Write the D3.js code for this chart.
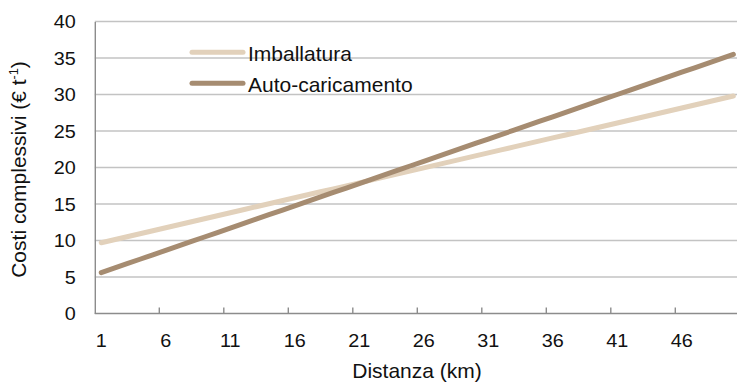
<!DOCTYPE html>
<html>
<head>
<meta charset="utf-8">
<script src="https://cdn.jsdelivr.net/npm/d3@7"></script>
<style>
  html, body { margin: 0; padding: 0; background: #fff; }
  svg { display: block; font-family: "Liberation Sans", Arial, sans-serif; }
</style>
</head>
<body>
<svg id="chart" width="737" height="383"></svg>
<script>
// Distance categories (km)
const distances = d3.range(1, 51);
// Category labels shown on the x axis
const xTickLabels = [1, 6, 11, 16, 21, 26, 31, 36, 41, 46];
// Y axis ticks
const yTicks = [0, 5, 10, 15, 20, 25, 30, 35, 40];

// Total costs (€ t-1) by distance
const imballatura = [
  9.70, 10.11, 10.52, 10.93, 11.34, 11.75, 12.16, 12.57, 12.98, 13.39,
  13.80, 14.21, 14.62, 15.03, 15.44, 15.85, 16.26, 16.67, 17.08, 17.49,
  17.90, 18.31, 18.72, 19.13, 19.54, 19.95, 20.36, 20.77, 21.18, 21.59,
  22.00, 22.41, 22.82, 23.23, 23.64, 24.05, 24.46, 24.87, 25.28, 25.69,
  26.10, 26.51, 26.92, 27.33, 27.74, 28.15, 28.56, 28.97, 29.38, 29.79
];
const autoCaricamento = [
  5.60, 6.21, 6.82, 7.43, 8.04, 8.65, 9.26, 9.87, 10.48, 11.09,
  11.70, 12.31, 12.92, 13.53, 14.14, 14.75, 15.36, 15.97, 16.58, 17.19,
  17.80, 18.41, 19.02, 19.63, 20.24, 20.85, 21.46, 22.07, 22.68, 23.29,
  23.90, 24.51, 25.12, 25.73, 26.34, 26.95, 27.56, 28.17, 28.78, 29.39,
  30.00, 30.61, 31.22, 31.83, 32.44, 33.05, 33.66, 34.27, 34.88, 35.49
];

const seriesNames = ["Imballatura", "Auto-caricamento"];
const seriesColors = ["#e2d1bb", "#a68c71"];
const seriesData = [imballatura, autoCaricamento];

const svg = d3.select("#chart");
const plotLeft = 94.8, plotRight = 739.8, plotTop = 21.5, plotBottom = 313.5;
// Tick numbers are set slightly wide
const WIDEN = 1.12;
const tickFont = 17.7, labelFont = 21;

const x = d3.scaleBand().domain(distances).range([plotLeft, plotRight]).padding(0);
const y = d3.scaleLinear().domain([0, 40]).range([plotBottom, plotTop]);
const cx = d => x(d) + x.bandwidth() / 2;

// Horizontal gridlines
svg.append("g")
  .selectAll("line")
  .data(yTicks.filter(t => t > 0))
  .join("line")
  .attr("x1", plotLeft).attr("x2", plotRight)
  .attr("y1", d => y(d)).attr("y2", d => y(d))
  .attr("stroke", "#c3c3c3").attr("stroke-width", 1.4);

// Y axis
const yAxis = svg.append("g")
  .attr("transform", `translate(${plotLeft},0)`)
  .call(d3.axisLeft(y).tickValues(yTicks).tickSize(0));
yAxis.select(".domain").attr("stroke", "#8c8c8c").attr("stroke-width", 1.4);
yAxis.selectAll("text")
  .attr("x", 0).attr("dy", 0)
  .attr("transform", `translate(-19,${tickFont * 0.36}) scale(${WIDEN},1)`)
  .attr("font-size", tickFont).attr("fill", "#111")
  .attr("font-family", "Liberation Sans, Arial, sans-serif");

// X axis: labels at category centres, tick marks at category boundaries
const xAxis = svg.append("g")
  .attr("transform", `translate(0,${plotBottom})`)
  .call(d3.axisBottom(x).tickValues(xTickLabels).tickSize(0));
xAxis.select(".domain").remove();
xAxis.selectAll("text")
  .attr("y", 0).attr("dy", 0)
  .attr("transform", `translate(0,33) scale(${WIDEN},1)`)
  .attr("font-size", tickFont).attr("fill", "#111")
  .attr("font-family", "Liberation Sans, Arial, sans-serif");

svg.append("line")
  .attr("x1", plotLeft).attr("x2", plotRight)
  .attr("y1", plotBottom).attr("y2", plotBottom)
  .attr("stroke", "#8c8c8c").attr("stroke-width", 1.4);

svg.append("g")
  .selectAll("line")
  .data(xTickLabels.filter(d => d > 1))
  .join("line")
  .attr("x1", d => x(d)).attr("x2", d => x(d))
  .attr("y1", plotBottom).attr("y2", plotBottom - 6)
  .attr("stroke", "#8c8c8c").attr("stroke-width", 1.4);

// Series lines
const line = d3.line().x((v, i) => cx(distances[i])).y(v => y(v));
svg.append("g")
  .selectAll("path")
  .data(seriesData)
  .join("path")
  .attr("d", d => line(d))
  .attr("fill", "none")
  .attr("stroke", (d, i) => seriesColors[i])
  .attr("stroke-width", 5)
  .attr("stroke-linecap", "round")
  .attr("stroke-linejoin", "round");

// Legend
const legend = svg.append("g");
seriesNames.forEach((name, i) => {
  const ly = 52.3 + i * 31;
  legend.append("line")
    .attr("x1", 192).attr("x2", 243)
    .attr("y1", ly).attr("y2", ly)
    .attr("stroke", seriesColors[i]).attr("stroke-width", 5)
    .attr("stroke-linecap", "round");
  legend.append("text")
    .attr("x", 248).attr("y", ly + 8.5)
    .attr("font-size", labelFont).attr("fill", "#111")
    .text(name);
});

// Axis titles
svg.append("text")
  .attr("x", 417).attr("y", 378)
  .attr("text-anchor", "middle")
  .attr("font-size", labelFont).attr("fill", "#111")
  .text("Distanza (km)");

const yTitle = svg.append("text")
  .attr("transform", "translate(26,169.5) rotate(-90)")
  .attr("text-anchor", "middle")
  .attr("font-size", labelFont).attr("fill", "#111");
yTitle.append("tspan").text("Costi complessivi (€ t");
yTitle.append("tspan").attr("font-size", labelFont * 0.6).attr("dy", -8).text("-1");
yTitle.append("tspan").attr("dy", 8).text(")");
</script>
</body>
</html>
